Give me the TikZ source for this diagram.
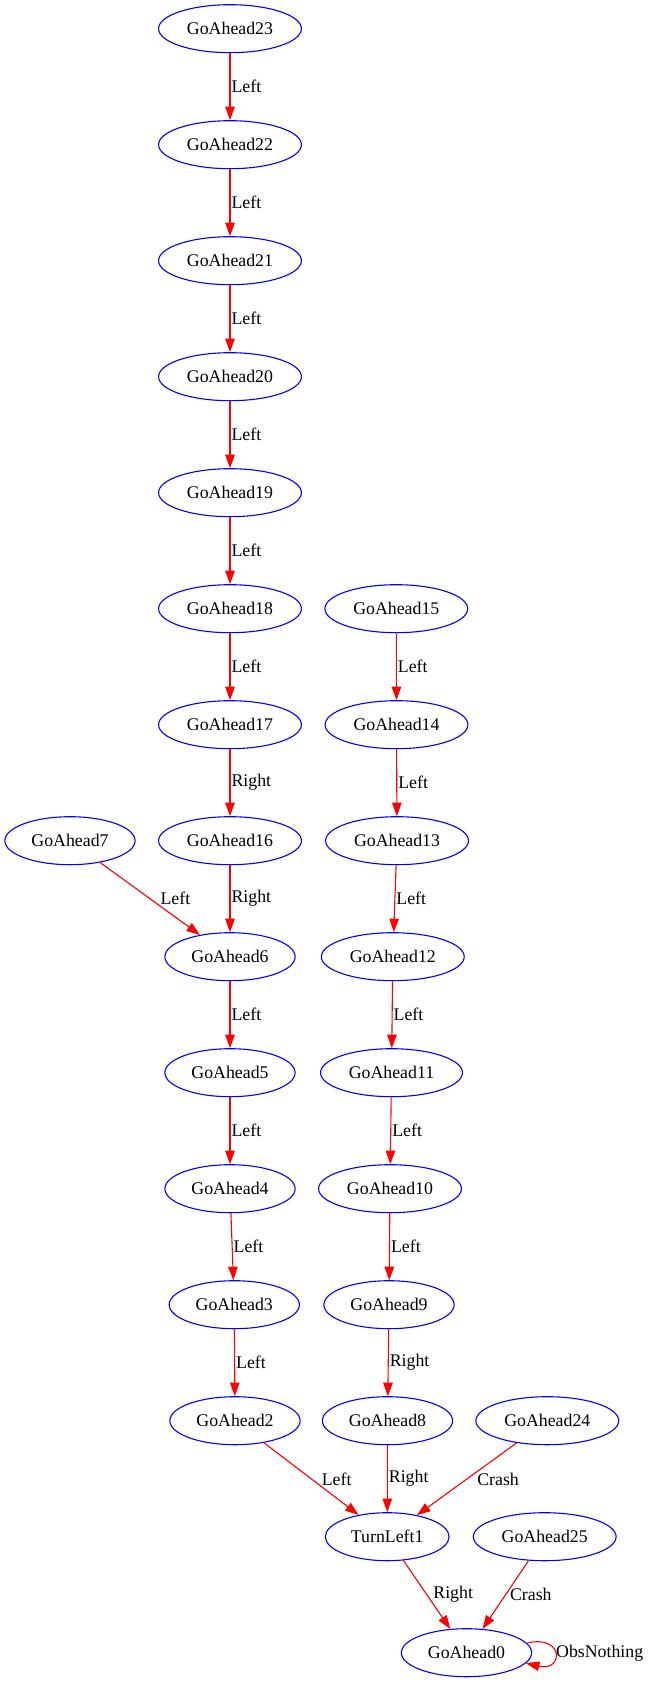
\documentclass[tikz,border=0pt]{standalone}
\usepackage{fontspec}
\setmainfont{Liberation Serif}
\usetikzlibrary{shapes.geometric,arrows.meta}
\tikzset{
  st/.style={ellipse, draw=blue, line width=1.1pt, minimum height=48pt, inner xsep=7.5pt, inner ysep=0pt, font=\fontsize{17.8}{20}\selectfont},
  edg/.style={draw=red, line width=1.1pt, -{Triangle[length=13.5pt,width=9.5pt]}},
  lbl/.style={anchor=west, inner sep=1pt, font=\fontsize{17.8}{20}\selectfont, text=black}
}
\begin{document}
\begin{tikzpicture}[x=1pt,y=-1pt]
\fill[white] (0,0) rectangle (650,1683);
\useasboundingbox (0,0) rectangle (650,1683);
% nodes
\node[st] (g23) at (230,28.7) {GoAhead23};
\node[st] (g22) at (230,144.7) {GoAhead22};
\node[st] (g21) at (230,260.7) {GoAhead21};
\node[st] (g20) at (230,376.7) {GoAhead20};
\node[st] (g19) at (230,492.7) {GoAhead19};
\node[st] (g18) at (230,608.7) {GoAhead18};
\node[st] (g17) at (230,724.7) {GoAhead17};
\node[st] (g16) at (230,840.7) {GoAhead16};
\node[st] (g7) at (70,840.7) {GoAhead7};
\node[st] (g6) at (230,956.7) {GoAhead6};
\node[st] (g5) at (230,1072.7) {GoAhead5};
\node[st] (g4) at (230,1188.7) {GoAhead4};
\node[st] (g3) at (234.3,1304.7) {GoAhead3};
\node[st] (g2) at (235,1420.7) {GoAhead2};
\node[st] (g15) at (396.3,608.7) {GoAhead15};
\node[st] (g14) at (396.5,724.7) {GoAhead14};
\node[st] (g13) at (397,840.7) {GoAhead13};
\node[st] (g12) at (392.8,956.7) {GoAhead12};
\node[st] (g11) at (391.5,1072.7) {GoAhead11};
\node[st] (g10) at (390,1188.7) {GoAhead10};
\node[st] (g9) at (389,1304.7) {GoAhead9};
\node[st] (g8) at (387.5,1420.7) {GoAhead8};
\node[st] (g24) at (547.3,1420.7) {GoAhead24};
\node[st] (tl1) at (387.2,1536.7) {TurnLeft1};
\node[st] (g25) at (544.7,1536.7) {GoAhead25};
\node[st] (g0) at (466.5,1652.7) {GoAhead0};
% edges
\draw[edg] (g23) -- node[lbl, midway] {Left} (g22);
\draw[edg] (g22) -- node[lbl, midway] {Left} (g21);
\draw[edg] (g21) -- node[lbl, midway] {Left} (g20);
\draw[edg] (g20) -- node[lbl, midway] {Left} (g19);
\draw[edg] (g19) -- node[lbl, midway] {Left} (g18);
\draw[edg] (g18) -- node[lbl, midway] {Left} (g17);
\draw[edg] (g17) -- node[lbl, midway] {Right} (g16);
\draw[edg] (g16) -- node[lbl, midway] {Right} (g6);
\draw[edg] (g7) -- node[lbl, midway, xshift=9pt] {Left} (g6);
\draw[edg] (g6) -- node[lbl, midway] {Left} (g5);
\draw[edg] (g5) -- node[lbl, midway] {Left} (g4);
\draw[edg] (g4) -- node[lbl, midway] {Left} (g3);
\draw[edg] (g3) -- node[lbl, midway] {Left} (g2);
\draw[edg] (g2) -- node[lbl, midway, xshift=9pt] {Left} (tl1);
\draw[edg] (g15) -- node[lbl, midway] {Left} (g14);
\draw[edg] (g14) -- node[lbl, midway] {Left} (g13);
\draw[edg] (g13) -- node[lbl, midway] {Left} (g12);
\draw[edg] (g12) -- node[lbl, midway] {Left} (g11);
\draw[edg] (g11) -- node[lbl, midway] {Left} (g10);
\draw[edg] (g10) -- node[lbl, midway] {Left} (g9);
\draw[edg] (g9) -- node[lbl, midway] {Right} (g8);
\draw[edg] (g8) -- node[lbl, midway] {Right} (tl1);
\draw[edg] (g24) -- node[lbl, midway, xshift=9pt] {Crash} (tl1);
\draw[edg] (tl1) -- node[lbl, midway, xshift=5pt] {Right} (g0);
\draw[edg] (g25) -- node[lbl, midway, xshift=3pt] {Crash} (g0);
\draw[edg] (g0.9) .. controls (564,1634) and (564,1672) .. node[lbl, pos=0.5] {ObsNothing} (g0.-10);
\end{tikzpicture}
\end{document}
